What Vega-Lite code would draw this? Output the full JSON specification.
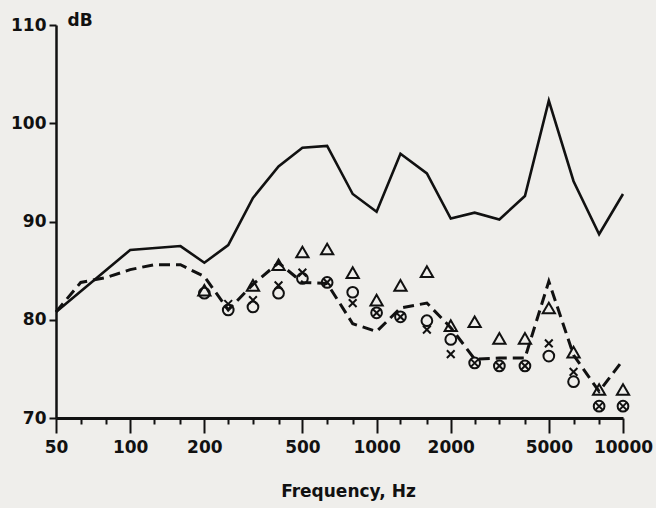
{
  "$schema": "https://vega.github.io/schema/vega-lite/v6.json",
  "autosize": "none",
  "width": 567,
  "height": 393,
  "padding": {"left": 56, "top": 25, "right": 33, "bottom": 90},
  "background": "#efeeeb",
  "config": {
    "view": {"stroke": null},
    "font": "DejaVu Sans"
  },
  "datasets": {
    "solid": [
      {"f": 50, "db": 80.8},
      {"f": 100, "db": 87.1},
      {"f": 160, "db": 87.5},
      {"f": 200, "db": 85.8},
      {"f": 250, "db": 87.6},
      {"f": 315, "db": 92.4},
      {"f": 400, "db": 95.6},
      {"f": 500, "db": 97.5},
      {"f": 630, "db": 97.7},
      {"f": 800, "db": 92.8},
      {"f": 1000, "db": 91.0},
      {"f": 1250, "db": 96.9},
      {"f": 1600, "db": 94.9},
      {"f": 2000, "db": 90.3},
      {"f": 2500, "db": 90.9},
      {"f": 3150, "db": 90.2},
      {"f": 4000, "db": 92.6},
      {"f": 5000, "db": 102.3},
      {"f": 6300, "db": 94.1},
      {"f": 8000, "db": 88.7},
      {"f": 10000, "db": 92.8}
    ],
    "dashed": [
      {"f": 50, "db": 80.8},
      {"f": 63, "db": 83.8},
      {"f": 80, "db": 84.3},
      {"f": 100, "db": 85.1},
      {"f": 125, "db": 85.6},
      {"f": 160, "db": 85.6},
      {"f": 200, "db": 84.4},
      {"f": 250, "db": 81.0},
      {"f": 315, "db": 83.6},
      {"f": 400, "db": 85.8},
      {"f": 500, "db": 83.8},
      {"f": 630, "db": 83.7},
      {"f": 800, "db": 79.6},
      {"f": 1000, "db": 78.8},
      {"f": 1250, "db": 81.2},
      {"f": 1600, "db": 81.7},
      {"f": 2000, "db": 79.2},
      {"f": 2500, "db": 76.0},
      {"f": 3150, "db": 76.1},
      {"f": 4000, "db": 76.1},
      {"f": 5000, "db": 83.9},
      {"f": 6300, "db": 76.4},
      {"f": 8000, "db": 72.7},
      {"f": 10000, "db": 75.9}
    ],
    "triangle": [
      {"f": 200, "db": 83.0},
      {"f": 315, "db": 83.5},
      {"f": 400, "db": 85.6},
      {"f": 500, "db": 86.9},
      {"f": 630, "db": 87.2},
      {"f": 800, "db": 84.8},
      {"f": 1000, "db": 82.0},
      {"f": 1250, "db": 83.5},
      {"f": 1600, "db": 84.9},
      {"f": 2000, "db": 79.4},
      {"f": 2500, "db": 79.8},
      {"f": 3150, "db": 78.1},
      {"f": 4000, "db": 78.1},
      {"f": 5000, "db": 81.2},
      {"f": 6300, "db": 76.7},
      {"f": 8000, "db": 72.9},
      {"f": 10000, "db": 72.9}
    ],
    "circle": [
      {"f": 200, "db": 82.7},
      {"f": 250, "db": 81.0},
      {"f": 315, "db": 81.3},
      {"f": 400, "db": 82.7},
      {"f": 500, "db": 84.2},
      {"f": 630, "db": 83.8},
      {"f": 800, "db": 82.8},
      {"f": 1000, "db": 80.7},
      {"f": 1250, "db": 80.3},
      {"f": 1600, "db": 79.9},
      {"f": 2000, "db": 78.0},
      {"f": 2500, "db": 75.6},
      {"f": 3150, "db": 75.3},
      {"f": 4000, "db": 75.3},
      {"f": 5000, "db": 76.3},
      {"f": 6300, "db": 73.7},
      {"f": 8000, "db": 71.2},
      {"f": 10000, "db": 71.2}
    ],
    "cross": [
      {"f": 250, "db": 81.6},
      {"f": 315, "db": 82.0},
      {"f": 400, "db": 83.5},
      {"f": 500, "db": 84.8},
      {"f": 630, "db": 83.8},
      {"f": 800, "db": 81.7},
      {"f": 1000, "db": 80.7},
      {"f": 1250, "db": 80.3},
      {"f": 1600, "db": 79.0},
      {"f": 2000, "db": 76.5},
      {"f": 2500, "db": 75.6},
      {"f": 3150, "db": 75.3},
      {"f": 4000, "db": 75.3},
      {"f": 5000, "db": 77.6},
      {"f": 6300, "db": 74.7},
      {"f": 8000, "db": 71.2},
      {"f": 10000, "db": 71.2}
    ]
  },
  "resolve": {"axis": {"x": "independent", "y": "independent"}},
  "layer": [
    {
      "data": {"name": "solid"},
      "mark": {"type": "line", "color": "#111", "strokeWidth": 2.6, "strokeJoin": "miter"},
      "encoding": {
        "x": {
          "field": "f", "type": "quantitative",
          "scale": {"type": "log", "domain": [50, 10000], "nice": false},
          "axis": {
            "orient": "bottom",
            "values": [50, 100, 200, 500, 1000, 2000, 5000, 10000],
            "format": "d",
            "tickSize": 15,
            "tickWidth": 2,
            "tickColor": "#111",
            "domainColor": "#111",
            "domainWidth": 3,
            "grid": false,
            "labelFont": "DejaVu Sans",
            "labelFontWeight": "bold",
            "labelFontSize": 17,
            "labelColor": "#111",
            "labelPadding": 6,
            "labelOverlap": false,
            "labelFlush": false,
            "title": "Frequency, Hz",
            "titleX": 292,
            "titleFont": "DejaVu Sans",
            "titleFontWeight": "bold",
            "titleFontSize": 17,
            "titleColor": "#111",
            "titlePadding": 28
          }
        },
        "y": {
          "field": "db", "type": "quantitative",
          "scale": {"domain": [70, 110], "nice": false, "zero": false},
          "axis": {
            "orient": "left",
            "values": [70, 80, 90, 100, 110],
            "tickSize": 7,
            "tickWidth": 2,
            "tickColor": "#111",
            "domainColor": "#111",
            "domainWidth": 2.5,
            "grid": false,
            "labelFont": "DejaVu Sans",
            "labelFontWeight": "bold",
            "labelFontSize": 17,
            "labelColor": "#111",
            "labelPadding": 3,
            "title": "dB",
            "titleAngle": 0,
            "titleAlign": "left",
            "titleBaseline": "alphabetic",
            "titleX": 11,
            "titleY": 0,
            "titleFont": "DejaVu Sans",
            "titleFontWeight": "bold",
            "titleFontSize": 17,
            "titleColor": "#111"
          }
        }
      }
    },
    {
      "data": {"name": "dashed"},
      "mark": {"type": "line", "color": "#111", "strokeWidth": 3, "strokeDash": [11, 6]},
      "encoding": {
        "x": {
          "field": "f", "type": "quantitative",
          "axis": {
            "orient": "bottom",
            "values": [63, 80, 125, 160, 250, 315, 400, 630, 800, 1250, 1600, 2500, 3150, 4000, 6300, 8000],
            "tickSize": 6,
            "tickWidth": 2,
            "tickColor": "#111",
            "domain": false,
            "labels": false,
            "grid": false,
            "title": null
          }
        },
        "y": {"field": "db", "type": "quantitative", "axis": null}
      }
    },
    {
      "data": {"name": "triangle"},
      "mark": {"type": "point", "shape": "triangle-up", "size": 150, "filled": false, "stroke": "#111", "strokeWidth": 2, "opacity": 1},
      "encoding": {
        "x": {"field": "f", "type": "quantitative", "axis": null},
        "y": {"field": "db", "type": "quantitative", "axis": null}
      }
    },
    {
      "data": {"name": "circle"},
      "mark": {"type": "point", "shape": "circle", "size": 115, "filled": false, "stroke": "#111", "strokeWidth": 2, "opacity": 1},
      "encoding": {
        "x": {"field": "f", "type": "quantitative", "axis": null},
        "y": {"field": "db", "type": "quantitative", "axis": null}
      }
    },
    {
      "data": {"name": "cross"},
      "mark": {"type": "point", "shape": "M-1,-1L1,1M-1,1L1,-1", "size": 60, "filled": false, "stroke": "#111", "strokeWidth": 2, "opacity": 1},
      "encoding": {
        "x": {"field": "f", "type": "quantitative", "axis": null},
        "y": {"field": "db", "type": "quantitative", "axis": null}
      }
    }
  ]
}
